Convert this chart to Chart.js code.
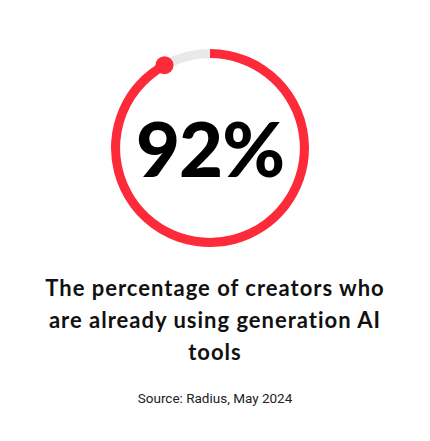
<!DOCTYPE html>
<html>
<head>
<meta charset="utf-8">
<script src="https://cdn.jsdelivr.net/npm/chart.js@4/dist/chart.umd.min.js"></script>
<style>
  body { margin: 0; background: #fff; width: 430px; height: 441px; position: relative; font-family: Lato, "Open Sans", sans-serif; }
  #ringBox { position: absolute; left: 100px; top: 38px; width: 220px; height: 220px; }
  #bigValue { position: absolute; left: 100px; top: 38px; width: 220px; height: 220px; line-height: 220px; text-align: center; font-size: 76px; font-weight: 900; color: #000; letter-spacing: -1px; }
  #title { position: absolute; left: 38px; right: 38px; top: 272px; text-align: center; font-size: 22px; font-weight: 700; line-height: 32px; color: #111; letter-spacing: 1px; }
  #source { position: absolute; left: 0; right: 0; top: 390px; text-align: center; font-size: 13.5px; color: #222; font-family: Roboto, sans-serif; }
</style>
</head>
<body>
<div id="ringBox"><canvas id="ring"></canvas></div>
<div id="bigValue">92%</div>
<div id="title">The percentage of creators who are already using generation AI tools</div>
<div id="source">Source: Radius, May 2024</div>
<script>
const labels = ["Using AI tools", "Not using"];
const values = [92, 8];
const colors = ["#fd2a3a", "#e9e9e9"];

const endDot = {
  id: "endDot",
  afterDatasetsDraw(chart) {
    const arc = chart.getDatasetMeta(0).data[0];
    if (!arc) return;
    const { x, y, endAngle, outerRadius, innerRadius } = arc.getProps(["x", "y", "endAngle", "outerRadius", "innerRadius"], true);
    const r = (outerRadius + innerRadius) / 2;
    const ctx = chart.ctx;
    ctx.save();
    ctx.fillStyle = colors[0];
    ctx.beginPath();
    ctx.arc(x + Math.cos(endAngle) * r, y + Math.sin(endAngle) * r, 9, 0, Math.PI * 2);
    ctx.fill();
    ctx.restore();
  },
};

window.addEventListener("DOMContentLoaded", () => {
  new Chart(document.getElementById("ring"), {
    type: "doughnut",
    data: {
      labels,
      datasets: [{ data: values, backgroundColor: colors, borderWidth: 0 }],
    },
    options: {
      responsive: true,
      maintainAspectRatio: false,
      animation: false,
      cutout: "90.8%",
      layout: { padding: 11 },
      plugins: { legend: { display: false }, tooltip: { enabled: false } },
    },
    plugins: [endDot],
  });
});
</script>
</body>
</html>
